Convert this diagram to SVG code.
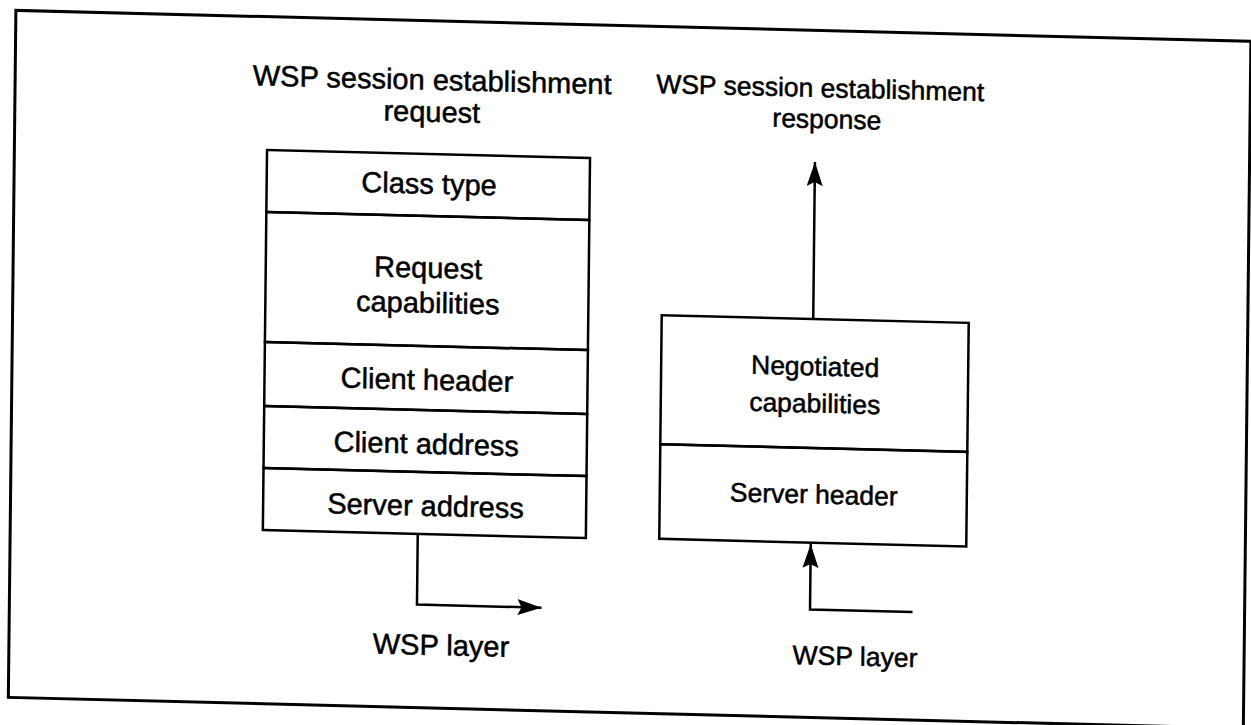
<svg xmlns="http://www.w3.org/2000/svg" width="1251" height="725" viewBox="0 0 1251 725">
<style>
  .box { fill: none; stroke: #000; stroke-width: 2.5; }
  .frame { fill: none; stroke: #000; stroke-width: 3; }
  .conn { fill: none; stroke: #000; stroke-width: 2.5; }
  text { font-family: "Liberation Sans", Arial, sans-serif; fill: #000; stroke: #000; stroke-width: 0.5; text-anchor: middle; }
  .l { font-size: 29px; }
  .r { font-size: 26.5px; }
</style>
<defs>
  <marker id="arrow" markerUnits="userSpaceOnUse" markerWidth="26" markerHeight="18" refX="24" refY="8" orient="auto">
    <path d="M0,0 L24,8 L0,16 L4,8 z" fill="#000"/>
  </marker>
</defs>
<rect width="1251" height="725" fill="#fff"/>
<g transform="matrix(1 0.025 -0.011 1 0 0)">
  <rect id="frame" class="frame" x="16" y="10" width="1235" height="687"/>

  <g id="title-request">
    <text class="l" x="433" y="79" font-size="28.5">WSP session establishment</text>
    <text class="l" x="433" y="111" font-size="28.5">request</text>
  </g>

  <g id="request-pdu">
    <g id="req-class-type">
      <rect class="box" x="268.6" y="143.3" width="323" height="62"/>
      <text class="l" x="431" y="183">Class type</text>
    </g>
    <g id="req-capabilities">
      <rect class="box" x="268.6" y="205.3" width="323" height="130"/>
      <text class="l" x="431" y="267">Request</text>
      <text class="l" x="431" y="302">capabilities</text>
    </g>
    <g id="req-client-header">
      <rect class="box" x="268.6" y="335.3" width="323" height="64"/>
      <text class="l" x="431" y="379">Client header</text>
    </g>
    <g id="req-client-address">
      <rect class="box" x="268.6" y="399.3" width="323" height="62"/>
      <text class="l" x="431" y="443">Client address</text>
    </g>
    <g id="req-server-address">
      <rect class="box" x="268.6" y="461.3" width="323" height="62"/>
      <text class="l" x="431" y="505">Server address</text>
    </g>
  </g>

  <g id="title-response">
    <text class="r" x="821" y="76.5">WSP session establishment</text>
    <text class="r" x="828" y="107.5">response</text>
  </g>

  <g id="response-pdu">
    <g id="resp-capabilities">
      <rect class="box" x="665" y="298.6" width="307" height="129"/>
      <text class="r" x="819" y="355">Negotiated</text>
      <text class="r" x="819" y="392">capabilities</text>
    </g>
    <g id="resp-server-header">
      <rect class="box" x="665" y="427.6" width="307" height="94.6"/>
      <text class="r" x="819" y="483">Server header</text>
    </g>
  </g>

  <g id="label-wsp-left">
    <text class="l" x="448" y="644" font-size="28">WSP layer</text>
  </g>
  <g id="label-wsp-right">
    <text class="r" x="862" y="644">WSP layer</text>
  </g>

  <g id="connectors">
    <path class="conn" d="M423.5,523.4 V594 H548" marker-end="url(#arrow)"/>
    <path class="conn" d="M816.5,298.6 V141.6" marker-end="url(#arrow)"/>
    <path class="conn" d="M919,589 H816.5 V523.5" marker-end="url(#arrow)"/>
  </g>
</g>
</svg>
